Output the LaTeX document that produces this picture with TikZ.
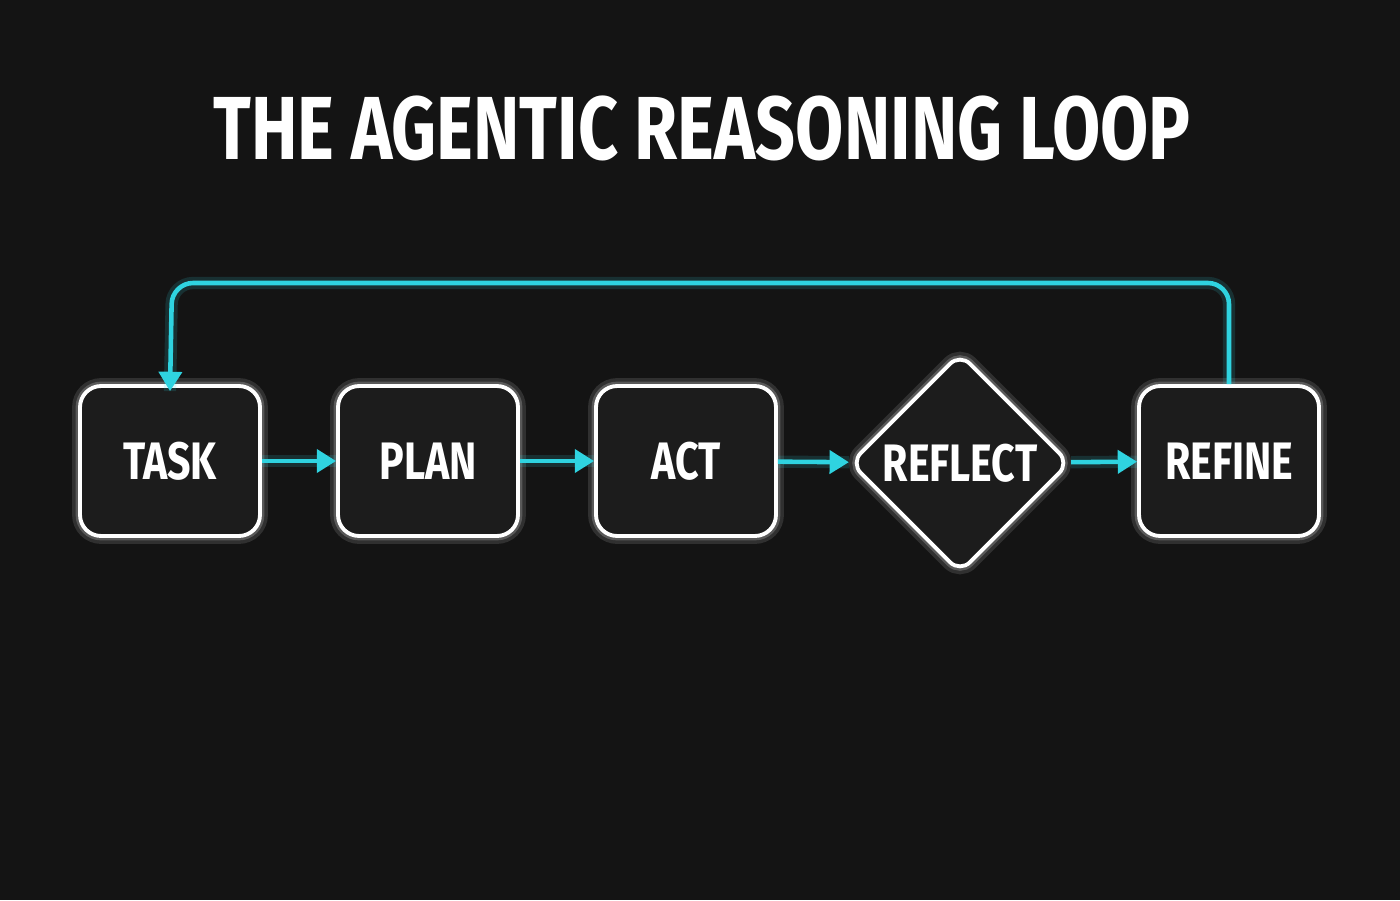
\documentclass[tikz,border=0pt]{standalone}
\usepackage{fontspec}
\newfontfamily\cond{Fira Sans}[FakeStretch=0.78]
\usetikzlibrary{shapes.geometric,arrows.meta}
\definecolor{bg}{HTML}{141414}
\definecolor{cy}{HTML}{2FD3E0}
\definecolor{boxfill}{HTML}{1C1C1C}
\tikzset{x=0.02cm,y=-0.02cm,
  glowline/.style={preaction={draw=white,opacity=0.12,line width=9pt},preaction={draw=white,opacity=0.2,line width=5pt}},
  stepbox/.style={draw=white,fill=boxfill,line width=2.2pt,rounded corners=12pt,minimum width=3.6cm,minimum height=3.0cm,font=\cond\bfseries\fontsize{30}{30}\selectfont,text=white,glowline},
  decbox/.style={draw=white,fill=boxfill,line width=2.2pt,diamond,rounded corners=8pt,minimum width=4.4cm,minimum height=4.4cm,inner sep=0pt,font=\cond\bfseries\fontsize{30}{30}\selectfont,text=white,glowline},
  flow/.style={draw=cy,line width=2.6pt,-{Triangle[length=11pt,width=13pt]},preaction={draw=cy,opacity=0.15,line width=7pt,-}},
}
\begin{document}
\begin{tikzpicture}
\fill[bg] (0,0) rectangle (1400,900);
\useasboundingbox (0,0) rectangle (1400,900);
\node[font=\cond\bfseries\fontsize{51}{51}\selectfont,text=white] (title) at (702,128) {THE AGENTIC REASONING LOOP};
\node[stepbox] (task) at (170,461) {TASK};
\node[stepbox] (plan) at (428,461) {PLAN};
\node[stepbox] (act) at (686,461) {ACT};
\node[decbox] (reflect) at (960,463) {REFLECT};
\node[stepbox] (refine) at (1229,461) {REFINE};
\draw[flow] (task) -- (plan);
\draw[flow] (plan) -- (act);
\draw[flow] (act) -- (reflect);
\draw[flow] (reflect) -- (refine);
\coordinate (tr) at (1229,283);
\coordinate (tl) at (172,283);
\draw[flow,rounded corners=12pt] (refine.north) -- (tr) -- (tl) -- ([yshift=-4pt]task.north);
\end{tikzpicture}
\end{document}
